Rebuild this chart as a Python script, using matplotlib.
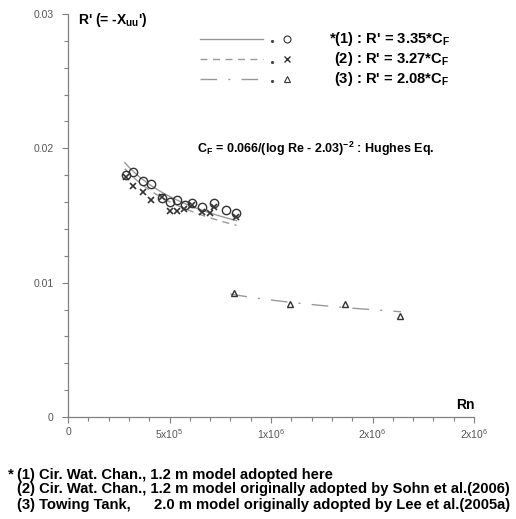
import numpy as np
import matplotlib
matplotlib.use("Agg")
import matplotlib.pyplot as plt
from matplotlib.ticker import FixedLocator, MultipleLocator

plt.rcParams['font.family'] = ['Liberation Sans', 'DejaVu Sans']
plt.rcParams['mathtext.fontset'] = 'custom'
plt.rcParams['mathtext.rm'] = 'Liberation Sans'
plt.rcParams['mathtext.bf'] = 'Liberation Sans:bold'
plt.rcParams['mathtext.it'] = 'Liberation Sans:italic'

# ---- data ----
rn_1 = [2.84e5, 3.22e5, 3.71e5, 4.09e5, 4.62e5, 5.02e5, 5.35e5, 5.76e5, 6.12e5, 6.59e5, 7.21e5, 7.77e5, 8.26e5]
r_1 = [0.01801, 0.01826, 0.01759, 0.01734, 0.01628, 0.01603, 0.01615, 0.01578, 0.01595, 0.01565, 0.01595, 0.01541, 0.01516]

rn_2 = [2.84e5, 3.22e5, 3.71e5, 4.09e5, 4.62e5, 5.02e5, 5.35e5, 5.71e5, 6.12e5, 6.59e5, 7.00e5, 7.21e5, 8.26e5]
r_2 = [0.01787, 0.01720, 0.01677, 0.01615, 0.01638, 0.01533, 0.01533, 0.01545, 0.01578, 0.01528, 0.01521, 0.01563, 0.01491]

rn_3 = [8.18e5, 1.094e6, 1.365e6, 1.635e6]
r_3 = [0.00923, 0.00841, 0.00841, 0.00752]

coef = [3.35, 3.27, 2.08]
fit_range = [(2.8e5, 8.3e5), (2.8e5, 8.3e5), (8.0e5, 1.64e6)]

x_ticks = [0, 5e5, 1e6, 1.5e6, 2e6]
x_ticklabels = ['0', '5x10$^{5}$', '1x10$^{6}$', '2x10$^{6}$', '2x10$^{6}$']
y_ticks = [0, 0.01, 0.02, 0.03]
y_ticklabels = ['0', '0.01', '0.02', '0.03']

legend_labels = ["*(1) : R' = 3.35*C$_\\mathbf{F}$",
                 "(2) : R' = 3.27*C$_\\mathbf{F}$",
                 "(3) : R' = 2.08*C$_\\mathbf{F}$"]
notes = ["(1) Cir. Wat. Chan., 1.2 m model adopted here",
         "(2) Cir. Wat. Chan., 1.2 m model originally adopted by Sohn et al.(2006)",
         "(3) Towing Tank,"]
note3b = "2.0 m model originally adopted by Lee et al.(2005a)"


def hughes(rn):
    return 0.066 / (np.log10(rn) - 2.03) ** 2


fig = plt.figure(figsize=(5.16, 5.19), dpi=100)
ax = fig.add_axes([68 / 516, 1 - 417 / 519, 406 / 516, 403 / 519])
ax.set_xlim(0, 2e6)
ax.set_ylim(0, 0.03)

line_col = '#9a9a9a'
mk_col = '#333333'
styles = ['-', (0, (5, 4)), (0, (12, 8, 1.5, 8))]

for k, (lo, hi), ls in zip(coef, fit_range, styles):
    xx = np.linspace(lo, hi, 60)
    ax.plot(xx, k * hughes(xx), color=line_col, lw=1.0, linestyle=ls)

ax.plot(rn_1, r_1, 'o', mfc='none', mec=mk_col, ms=6.0, mew=1.0)
ax.plot(rn_2, r_2, 'x', color=mk_col, ms=5.0, mew=1.2)
ax.plot(rn_3, r_3, '^', mfc='none', mec=mk_col, ms=5.0, mew=1.0)

for s in ['top', 'right']:
    ax.spines[s].set_visible(False)
for s in ['left', 'bottom']:
    ax.spines[s].set_color('#808080')
    ax.spines[s].set_linewidth(0.9)

ax.xaxis.set_major_locator(FixedLocator(x_ticks))
ax.set_xticklabels(x_ticklabels)
ax.xaxis.set_minor_locator(MultipleLocator(1e5))
ax.yaxis.set_major_locator(FixedLocator(y_ticks))
ax.set_yticklabels(y_ticklabels)
ax.yaxis.set_minor_locator(MultipleLocator(0.002))
ax.tick_params(which='major', length=4.5, width=0.8, color='#808080',
               labelsize=7.5, labelcolor='#555555')
ax.tick_params(which='minor', length=3.2, width=0.8, color='#808080')
ax.tick_params(axis='y', which='major', pad=6)
ax.tick_params(axis='x', which='major', pad=3)

# legend (manual)
rows_y = [0.938, 0.888, 0.839]
mks = [dict(marker='o', mfc='none', mec=mk_col, ms=5.0, mew=0.8),
       dict(marker='x', color=mk_col, ms=4.5, mew=1.0),
       dict(marker='^', mfc='none', mec=mk_col, ms=4.5, mew=0.8)]
for yy, ls, mk, lab in zip(rows_y, styles, mks, legend_labels):
    ax.plot([0.325, 0.480], [yy, yy], transform=ax.transAxes, color=line_col,
            lw=1.0, linestyle=ls, clip_on=False)
    ax.plot([0.502], [yy - 0.006], transform=ax.transAxes, marker='.', ms=2.5,
            color='#444444', linestyle='none')
    ax.plot([0.539], [yy], transform=ax.transAxes, linestyle='none', **mk)
    ax.text(0.940, yy, lab, transform=ax.transAxes, ha='right', va='center',
            fontsize=10.6, fontweight='bold')

ax.text(0.318, 0.665, "C$_\\mathbf{F}$ = 0.066/(log Re - 2.03)$^\\mathbf{-2}$ : Hughes Eq.",
        transform=ax.transAxes, ha='left', va='center', fontsize=9.0, fontweight='bold')
ax.text(0.0246, 0.985, "R' (= -X$_\\mathbf{uu}$')", transform=ax.transAxes,
        ha='left', va='center', fontsize=10, fontweight='bold')
ax.text(0.978, 0.03, "Rn", transform=ax.transAxes, ha='center', va='center',
        fontsize=10, fontweight='bold')

# footnotes
fs = 10.6
fig.text(8 / 516, 1 - 474.5 / 519, "*", ha='left', va='center', fontsize=fs, fontweight='bold')
fig.text(17 / 516, 1 - 474.5 / 519, notes[0], ha='left', va='center', fontsize=fs, fontweight='bold')
fig.text(17 / 516, 1 - 489.5 / 519, notes[1], ha='left', va='center', fontsize=fs, fontweight='bold')
fig.text(17 / 516, 1 - 504.5 / 519, notes[2], ha='left', va='center', fontsize=fs, fontweight='bold')
fig.text(154 / 516, 1 - 504.5 / 519, note3b, ha='left', va='center', fontsize=fs, fontweight='bold')

fig.savefig('out.png', dpi=100)
